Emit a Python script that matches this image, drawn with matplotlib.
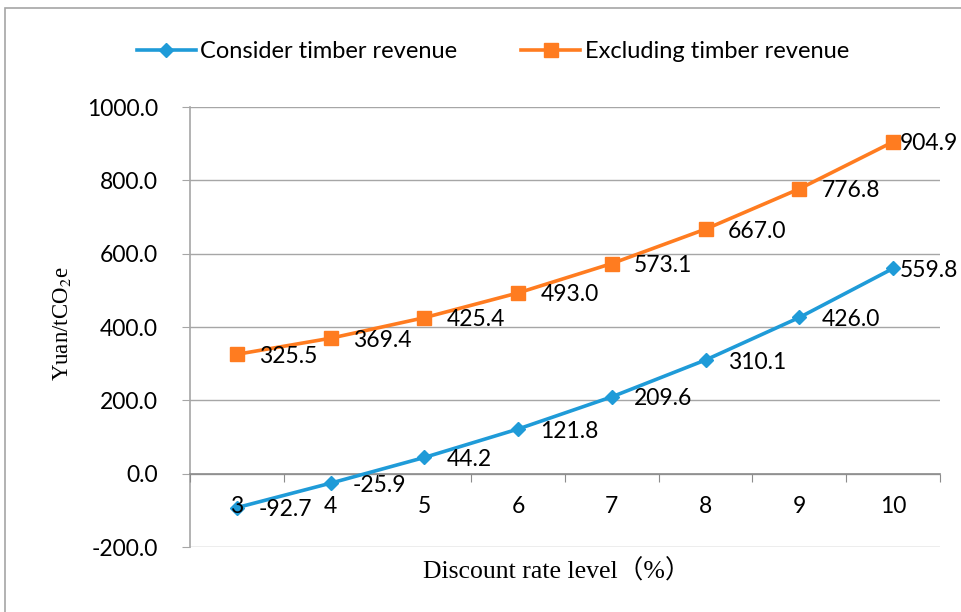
import matplotlib.pyplot as plt
from matplotlib.patches import Rectangle

# ---------------------------------------------------------------- data
rates = ['3', '4', '5', '6', '7', '8', '9', '10']
with_timber = [-92.7, -25.9, 44.2, 121.8, 209.6, 310.1, 426.0, 559.8]
without_timber = [325.5, 369.4, 425.4, 493.0, 573.1, 667.0, 776.8, 904.9]

BLUE, ORANGE, GRID = '#1F9BD8', '#FF7C20', '#A6A6A6'
FS = 16.5

plt.rcParams['font.family'] = ['Lato', 'DejaVu Sans']
plt.rcParams['mathtext.fontset'] = 'stix'

fig = plt.figure(figsize=(9.62, 6.12), dpi=100)
fig.patch.set_facecolor('white')
# chart-area border (only top/left visible in the reference)
fig.add_artist(Rectangle((5 / 962, -0.1), 1.2, 1 - 8 / 612 + 0.1,
                         transform=fig.transFigure, facecolor='none',
                         edgecolor=GRID, linewidth=1.2))

ax = fig.add_axes([190 / 962, 1 - 547 / 612, 750 / 962, 440 / 612])
x = list(range(len(rates)))

ax.plot(x, with_timber, color=BLUE, lw=2.6, marker='D', ms=7.5,
        label='Consider timber revenue', zorder=3)
ax.plot(x, without_timber, color=ORANGE, lw=2.6, marker='s', ms=9.5,
        label='Excluding timber revenue', zorder=3)

# data labels to the right of each point
for series in (with_timber, without_timber):
    for i, v in enumerate(series):
        off = 5 if i == len(series) - 1 else 16
        ax.annotate(f'{v:.1f}', (i, v), xytext=(off, -1.5),
                    textcoords='offset points', ha='left', va='center',
                    fontsize=FS, color='black', zorder=4)

ax.set_xlim(-0.5, len(rates) - 0.5)
ax.set_ylim(-200, 1000)
ax.set_yticks(range(-200, 1001, 200))
ax.set_yticklabels([f'{t:.1f}' for t in range(-200, 1001, 200)], fontsize=FS)
ax.tick_params(axis='y', direction='out', length=6, color=GRID, pad=17)

# category axis crossing at 0: ticks at boundaries, labels at centres
ax.spines['bottom'].set_position(('data', 0))
ax.spines['bottom'].set_color('#8C8C8C')
ax.spines['bottom'].set_linewidth(1.2)
ax.set_xticks([i - 0.5 for i in range(len(rates) + 1)])
ax.set_xticklabels([])
ax.tick_params(axis='x', which='major', direction='out', length=6,
               color='#8C8C8C')
ax.set_xticks(x, minor=True)
ax.set_xticklabels(rates, minor=True, fontsize=FS)
ax.tick_params(axis='x', which='minor', length=0, pad=16)
ax.xaxis.set_zorder(5)  # category labels sit on top of the markers

for s in ('top', 'right'):
    ax.spines[s].set_visible(False)
ax.spines['left'].set_color(GRID)
ax.spines['left'].set_linewidth(1.2)
ax.grid(axis='y', color=GRID, lw=1.0)
ax.yaxis.set_zorder(0.5)

fig.text(557 / 962, 1 - 571 / 612, 'Discount rate level（%）', ha='center',
         va='center', fontsize=18.5,
         family=['Liberation Serif', 'Noto Sans CJK SC'])
fig.text(62 / 962, 1 - 324 / 612, 'Yuan/tCO$_2$e', ha='center', va='center',
         rotation=90, fontsize=16.5, family='Liberation Serif')

fig.legend(loc='center', bbox_to_anchor=(493 / 962, 1 - 52 / 612), ncol=2,
           frameon=False, fontsize=17, handlelength=2.5, handletextpad=0.2,
           columnspacing=2.7)

fig.savefig('out.png', dpi=100, facecolor='white')
